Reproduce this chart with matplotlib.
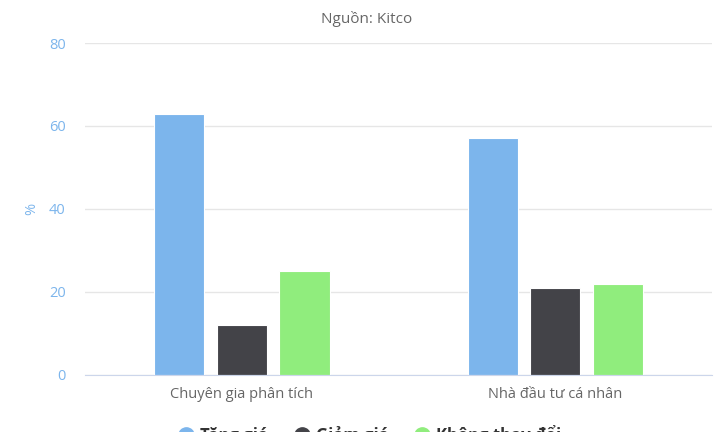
import numpy as np
import matplotlib

matplotlib.use("Agg")
import matplotlib.pyplot as plt
from matplotlib.lines import Line2D

# ---------------------------------------------------------------- data
CATEGORIES = ["Chuyên gia phân tích", "Nhà đầu tư cá nhân"]
SERIES = ["Tăng giá", "Giảm giá", "Không thay đổi"]
UP = [63, 57]
DOWN = [12, 21]
FLAT = [25, 22]
Y_TICKS = [0, 20, 40, 60, 80]

COLORS = ["#7cb5ec", "#434348", "#90ed7d"]
GRID, AXIS, LABEL = "#e6e6e6", "#ccd6eb", "#666666"

plt.rcParams["font.family"] = ["Open Sans", "DejaVu Sans"]

fig = plt.figure(figsize=(7.2, 4.32), dpi=100)
ax = fig.add_axes([0.118, 0.1324, 0.871, 0.768])

x = np.arange(len(CATEGORIES))
w = 0.16
for k, (vals, col) in enumerate(zip([UP, DOWN, FLAT], COLORS)):
    ax.bar(x + (k - 1) * 0.2, vals, w, color=col, edgecolor="white",
           linewidth=0.8, zorder=3, label=SERIES[k])

ax.set_xlim(-0.5, 1.5)
ax.set_ylim(0, 80)
ax.set_yticks(Y_TICKS)
ax.yaxis.grid(True, color=GRID, linewidth=1, zorder=0)
ax.set_xticks(x)
ax.set_xticklabels(CATEGORIES, color=LABEL, fontsize=10.5)
ax.tick_params(axis="x", length=0, pad=9)
ax.tick_params(axis="y", length=0, pad=14, labelcolor="#7cb5ec", labelsize=10.5)
for s in ["top", "right", "left"]:
    ax.spines[s].set_visible(False)
ax.spines["bottom"].set_color(AXIS)
ax.spines["bottom"].set_zorder(4)
ax.set_ylabel("%", color="#7cb5ec", fontsize=10.5, labelpad=7)

fig.text(367 / 720, 1 - 19 / 432, "Nguồn: Kitco", ha="center", va="center",
         color=LABEL, fontsize=11)

handles = [Line2D([], [], marker="o", linestyle="none", markersize=11,
                  markerfacecolor=c, markeredgecolor=c) for c in COLORS]
fig.legend(handles, SERIES, loc="center", bbox_to_anchor=(370 / 720, 1 - 435 / 432),
           ncol=3, frameon=False, handlelength=0.9, handletextpad=0.4,
           columnspacing=1.55, prop={"weight": "bold", "size": 12},
           labelcolor="#333333")

fig.savefig("out.png", dpi=100)
